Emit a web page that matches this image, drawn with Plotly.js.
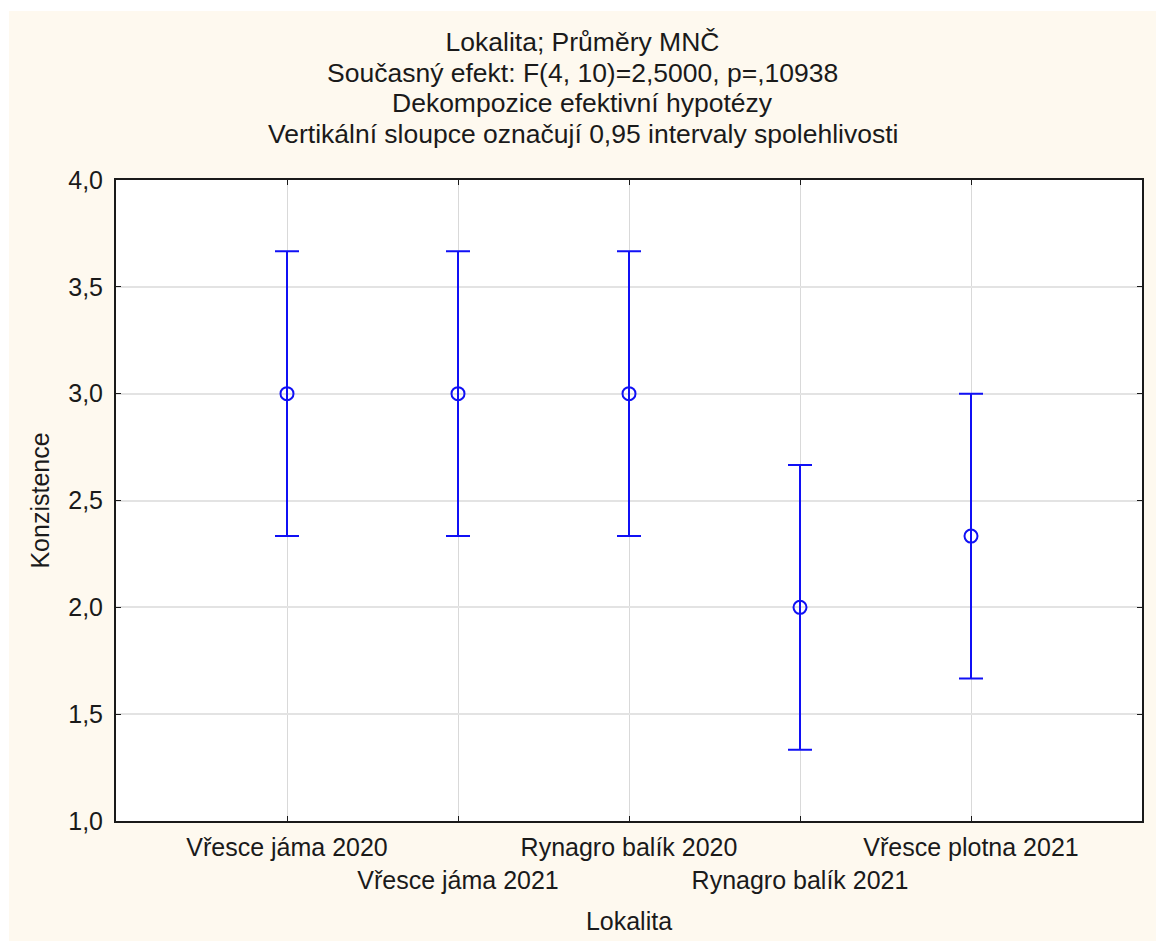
<!DOCTYPE html>
<html>
<head>
<meta charset="utf-8">
<script src="https://cdn.plot.ly/plotly-3.0.1.min.js"></script>
<style>
  html, body { margin: 0; padding: 0; background: #ffffff; }
  #chart { position: absolute; left: 9px; top: 11px; width: 1147px; height: 930px; }
</style>
</head>
<body>
<div id="chart"></div>
<script>
const categories = ["Vřesce jáma 2020", "Vřesce jáma 2021", "Rynagro balík 2020", "Rynagro balík 2021", "Vřesce plotna 2021"];
const means = [3.0, 3.0, 3.0, 2.0, 2.3333];
const upper = [3.6667, 3.6667, 3.6667, 2.6667, 3.0];
const lower = [2.3333, 2.3333, 2.3333, 1.3333, 1.6667];
const yTicks = [1.0, 1.5, 2.0, 2.5, 3.0, 3.5, 4.0];
const yTickText = ["1,0", "1,5", "2,0", "2,5", "3,0", "3,5", "4,0"];
const titleLines = [
  "Lokalita; Průměry MNČ",
  "Současný efekt: F(4, 10)=2,5000, p=,10938",
  "Dekompozice efektivní hypotézy",
  "Vertikální sloupce označují 0,95 intervaly spolehlivosti"
];
const xTitle = "Lokalita";
const yTitle = "Konzistence";

const idx = categories.map((c, i) => i);
const tickText = categories.map((c, i) => (i % 2 === 1 ? "<br>" + c : c));

const FONT = "Arial, 'Liberation Sans', sans-serif";
const BLUE = "#1010f5";
const TXT = "#1a1a1a";

const trace = {
  x: idx,
  y: means,
  type: "scatter",
  mode: "markers",
  marker: { symbol: "circle-open", size: 13, color: BLUE, line: { width: 2, color: BLUE } },
  error_y: {
    type: "data",
    symmetric: false,
    array: means.map((m, i) => upper[i] - m),
    arrayminus: means.map((m, i) => m - lower[i]),
    color: BLUE,
    thickness: 2,
    width: 12
  },
  hoverinfo: "x+y"
};

// subtitle lines placed as annotations (tighter line spacing than a multi-line title)
const lineY = [1.1669, 1.1201, 1.0718];
const annotations = titleLines.slice(1).map((t, i) => ({
  text: t,
  xref: "paper", yref: "paper",
  x: 0.4547, y: lineY[i],
  xanchor: "center", yanchor: "middle",
  showarrow: false,
  font: { family: FONT, size: 26.5, color: TXT }
}));

const layout = {
  width: 1147,
  height: 930,
  paper_bgcolor: "#fef9ef",
  plot_bgcolor: "#ffffff",
  margin: { l: 107, r: 14, t: 169, b: 120 },
  font: { family: FONT, size: 25, color: TXT },
  showlegend: false,
  title: {
    text: titleLines[0],
    font: { family: FONT, size: 26.5, color: TXT },
    x: 0.5, xref: "container", xanchor: "center",
    y: 1 - 31 / 930, yref: "container", yanchor: "middle"
  },
  annotations: annotations,
  xaxis: {
    range: [-1, 5],
    tickmode: "array",
    tickvals: idx,
    ticktext: tickText,
    tickangle: 0,
    ticks: "inside",
    ticklen: 5,
    tickcolor: TXT,
    ticklabelstandoff: 3,
    showgrid: true,
    gridcolor: "#d9d9d9",
    gridwidth: 1,
    zeroline: false,
    showline: true,
    linecolor: TXT,
    linewidth: 2,
    mirror: "ticks",
    tickfont: { family: FONT, size: 25, color: TXT },
    title: { text: xTitle, font: { family: FONT, size: 25, color: TXT }, standoff: 20 }
  },
  yaxis: {
    range: [1, 4],
    tickmode: "array",
    tickvals: yTicks,
    ticktext: yTickText,
    ticks: "inside",
    ticklen: 5,
    tickcolor: TXT,
    ticklabelstandoff: 6,
    showgrid: true,
    gridcolor: "#e3e3e3",
    gridwidth: 2,
    zeroline: false,
    showline: true,
    linecolor: TXT,
    linewidth: 2,
    mirror: "ticks",
    tickfont: { family: FONT, size: 25, color: TXT },
    title: { text: yTitle, font: { family: FONT, size: 25, color: TXT }, standoff: 11 }
  }
};

Plotly.newPlot("chart", [trace], layout, { displayModeBar: false, staticPlot: true });
</script>
</body>
</html>
